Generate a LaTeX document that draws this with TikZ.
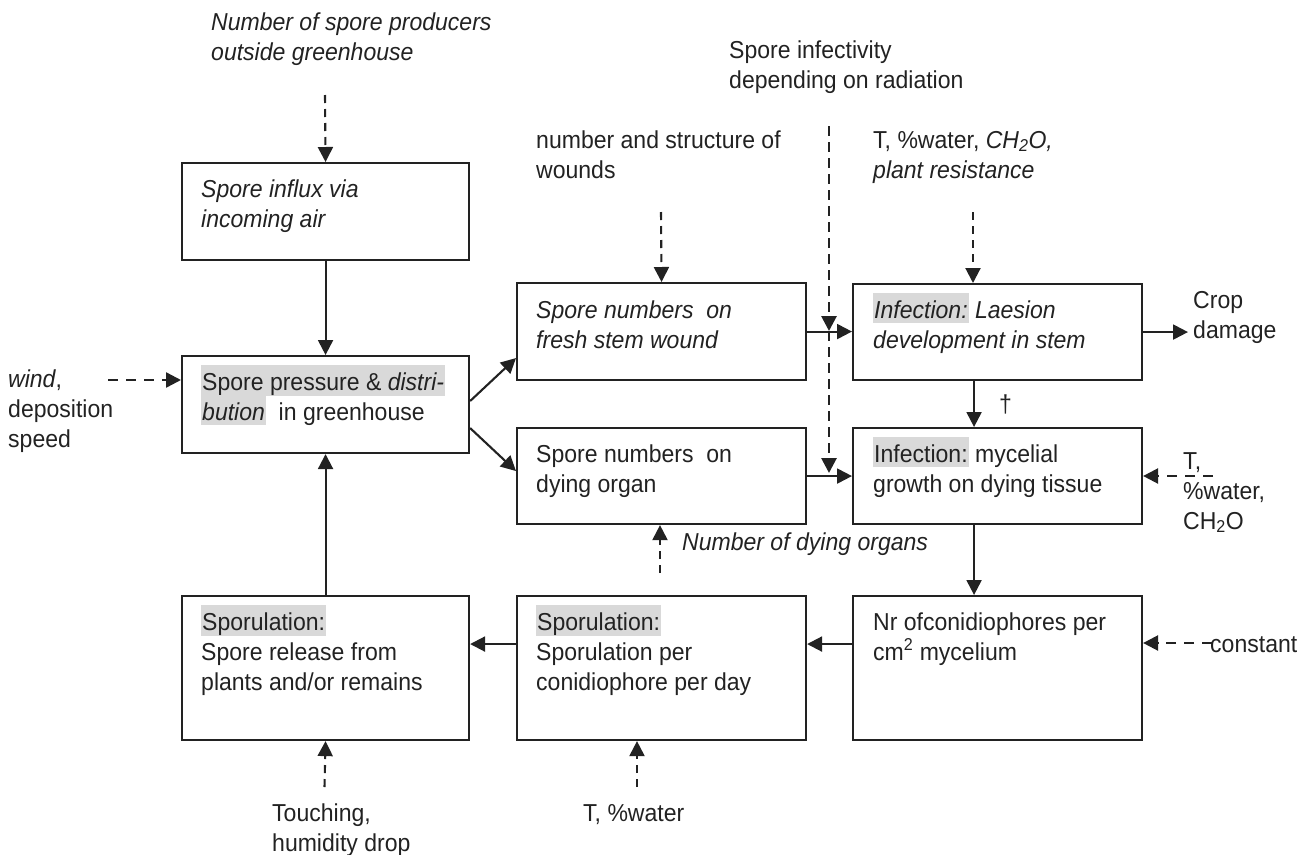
\documentclass[tikz,border=0pt]{standalone}
\usepackage{fontspec}
\setmainfont{Liberation Sans}[FakeStretch=0.94]
\usetikzlibrary{arrows.meta,calc}
\definecolor{hlgray}{HTML}{D9D9D9}
\definecolor{ink}{HTML}{222222}
\newcommand\hlt[1]{\smash{\setlength{\fboxsep}{1pt}\colorbox{hlgray}{\rule[-4pt]{0pt}{28pt}#1}}}
\newcommand\ml[1]{\begin{tabular}[t]{@{}l@{}}#1\end{tabular}}
\begin{document}
\begin{tikzpicture}[x=1pt,y=-1pt,font=\fontsize{24.5}{30}\selectfont,
  box/.style={draw=ink,line width=2.1pt,inner sep=0pt,anchor=north west},
  lbl/.style={inner sep=0pt,anchor=base west,text=ink},
  arr/.style={draw=ink,line width=2.1pt,-{Triangle[length=15pt,width=15pt]}},
  darr/.style={arr,dash pattern=on 8pt off 6pt},
  ddarr/.style={arr,line width=2.8pt,dash pattern=on 10pt off 6pt},
  wdarr/.style={arr,line width=2.4pt,dash pattern=on 10pt off 8pt}]
\useasboundingbox (0,0) rectangle (1306,854);
% boxes
\node[box,minimum width=287pt,minimum height=97pt] (influx) at (181,162) {};
\node[box,minimum width=287pt,minimum height=97pt] (pressure) at (181,355) {};
\node[box,minimum width=287pt,minimum height=144pt] (sporA) at (181,595) {};
\node[box,minimum width=289pt,minimum height=97pt] (fresh) at (516,282) {};
\node[box,minimum width=289pt,minimum height=96pt] (dying) at (516,427) {};
\node[box,minimum width=289pt,minimum height=144pt] (sporB) at (516,595) {};
\node[box,minimum width=289pt,minimum height=96pt] (laesion) at (852,283) {};
\node[box,minimum width=289pt,minimum height=96pt] (mycel) at (852,427) {};
\node[box,minimum width=289pt,minimum height=144pt] (nr) at (852,595) {};
% box texts
\node[lbl] (tinflux) at ($(influx.north west)+(20,35)$) {\ml{\textit{Spore influx via}\\\textit{incoming air}}};
\node[lbl] (tpressure) at ($(pressure.north west)+(20,35)$) {\ml{\hlt{Spore pressure \& \textit{distri-}}\\\hlt{\textit{bution}}\ \ in greenhouse}};
\node[lbl] (tsporA) at ($(sporA.north west)+(20,35)$) {\ml{\hlt{Sporulation:}\\Spore release from\\plants and/or remains}};
\node[lbl] (tfresh) at ($(fresh.north west)+(20,36)$) {\ml{\textit{Spore numbers\ \ on}\\\textit{fresh stem wound}}};
\node[lbl] (tdying) at ($(dying.north west)+(20,35)$) {\ml{Spore numbers\ \ on\\dying organ}};
\node[lbl] (tsporB) at ($(sporB.north west)+(20,35)$) {\ml{\hlt{Sporulation:}\\Sporulation per\\conidiophore per day}};
\node[lbl] (tlaesion) at ($(laesion.north west)+(21,35)$) {\ml{\hlt{\textit{Infection:}} \textit{Laesion}\\\textit{development in stem}}};
\node[lbl] (tmycel) at ($(mycel.north west)+(21,35)$) {\ml{\hlt{Infection:} mycelial\\growth on dying tissue}};
\node[lbl] (tnr) at ($(nr.north west)+(21,35)$) {\ml{Nr ofconidiophores per\\cm\textsuperscript{2} mycelium}};
% outside labels
\node[lbl] (prod) at (211,30) {\ml{\textit{Number of spore producers}\\\textit{outside greenhouse}}};
\node[lbl] (infect) at (729,58) {\ml{Spore infectivity\\depending on radiation}};
\node[lbl] (wounds) at (536,148) {\ml{number and structure of\\wounds}};
\node[lbl] (resist) at (873,148) {\ml{T, \%water, \textit{CH\textsubscript{2}O,}\\\textit{plant resistance}}};
\node[lbl] (crop) at (1193,308) {\ml{Crop\\damage}};
\node[lbl] (wind) at (8,387) {\ml{\textit{wind},\\deposition\\speed}};
\node[lbl] (tw) at (1183,469) {\ml{T,\\\%water,\\CH\textsubscript{2}O}};
\node[lbl] (const) at (1210,652) {constant};
\node[lbl] (dorg) at (682,550) {\textit{Number of dying organs}};
\node[lbl] (touch) at (272,821) {\ml{Touching,\\humidity drop}};
\node[lbl] (tww) at (583,821) {T, \%water};
\node[lbl] (dag) at (999,412) {†};
% coordinates for free ends
\coordinate (prod0) at (325,95);
\coordinate (wnd0) at (661,212);
\coordinate (res0) at (973,212);
\coordinate (inf0) at (829,126);
\coordinate (inf1) at (829,331);
\coordinate (inf2) at (829,473);
\coordinate (wind0) at (108,380);
\coordinate (tw0) at (1213,476);
\coordinate (con0) at (1212,643);
\coordinate (dorg0) at (660,573);
\coordinate (tch0) at (324.5,787);
\coordinate (tww0) at (637,787);
% solid connectors
\draw[arr] (influx.south) -- (pressure.north);
\draw[arr] (sporA.north) -- (pressure.south);
\draw[arr] ([yshift=3.5pt]pressure.east) -- ([yshift=-26.5pt]fresh.west);
\draw[arr] ([yshift=-23.5pt]pressure.east) -- ([yshift=5pt]dying.west);
\draw[arr] (fresh.east) -- (fresh.east -| laesion.west);
\draw[arr] (dying.east) -- (dying.east -| mycel.west);
\draw[arr] ([xshift=-23.5pt]laesion.south) -- ([xshift=-23.5pt]mycel.north);
\draw[arr] ([xshift=-23.5pt]mycel.south) -- ([xshift=-23.5pt]nr.north);
\draw[arr] ([yshift=24pt]nr.west) -- ([yshift=24pt]sporB.east);
\draw[arr] ([yshift=24pt]sporB.west) -- ([yshift=24pt]sporA.east);
\draw[arr,shorten >=5pt] (laesion.east) -- (laesion.east -| crop.west);
% dashed connectors
\draw[darr] (prod0) -- (influx.north);
\draw[darr] (wnd0) -- (fresh.north);
\draw[darr] (res0) -- (res0 |- laesion.north);
\draw[ddarr] (inf0) -- (inf1);
\draw[ddarr] (inf1) -- (inf2);
\draw[wdarr] (wind0) -- (wind0 -| pressure.west);
\draw[wdarr] (tw0) -- (tw0 -| mycel.east);
\draw[wdarr] (con0) -- (con0 -| nr.east);
\draw[darr] (dorg0) -- (dorg0 |- dying.south);
\draw[darr] (tch0) -- (sporA.south);
\draw[darr] (tww0) -- (tww0 |- sporB.south);
\end{tikzpicture}
\end{document}
